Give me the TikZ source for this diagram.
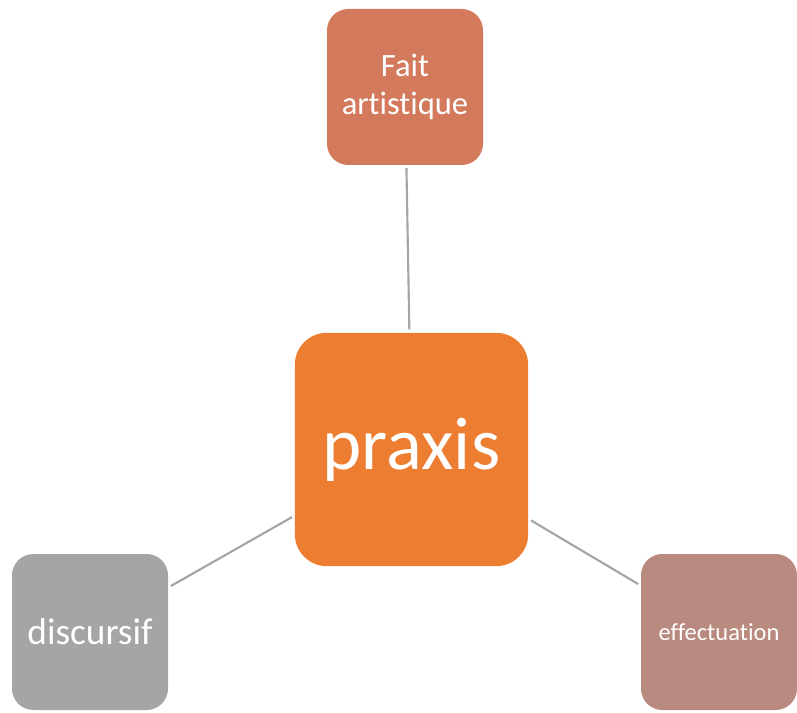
\documentclass[tikz,border=0pt]{standalone}
\usepackage{fontspec}
\setmainfont[Ligatures=NoCommon]{Carlito}
\definecolor{faitcol}{HTML}{D37A5C}
\definecolor{praxcol}{HTML}{ED7D31}
\definecolor{disccol}{HTML}{A5A5A5}
\definecolor{effcol}{HTML}{B98A80}
\definecolor{linkcol}{HTML}{A5A5A5}
\tikzset{
 smallbox/.style={fill=#1, text=white, rounded corners=16pt, minimum width=117pt, minimum height=117pt, inner sep=0pt, align=center},
 link/.style={draw=linkcol, line width=1.6pt, shorten <=2.2pt, shorten >=2.2pt}
}
\begin{document}
\begin{tikzpicture}[x=0.75pt, y=-0.75pt]
 \useasboundingbox (0,0) rectangle (797,713);
 \node[fill=praxcol, text=white, rounded corners=24pt, minimum width=175pt, minimum height=175pt, inner sep=0pt, font=\fontsize{56}{64}\selectfont] (prax) at (411.5,449.5) {praxis};
 \node[smallbox=faitcol, font=\fontsize{24.4}{28}\selectfont] (fait) at (405,87) {Fait\\artistique};
 \node[smallbox=disccol, font=\fontsize{28}{32}\selectfont] (disc) at (90,632) {discursif};
 \node[smallbox=effcol, font=\fontsize{18.4}{22}\selectfont] (eff) at (719,632) {effectuation};
 \draw[link] (fait) -- (prax);
 \draw[link] (disc) -- (prax);
 \draw[link] (prax) -- (eff);
\end{tikzpicture}
\end{document}
